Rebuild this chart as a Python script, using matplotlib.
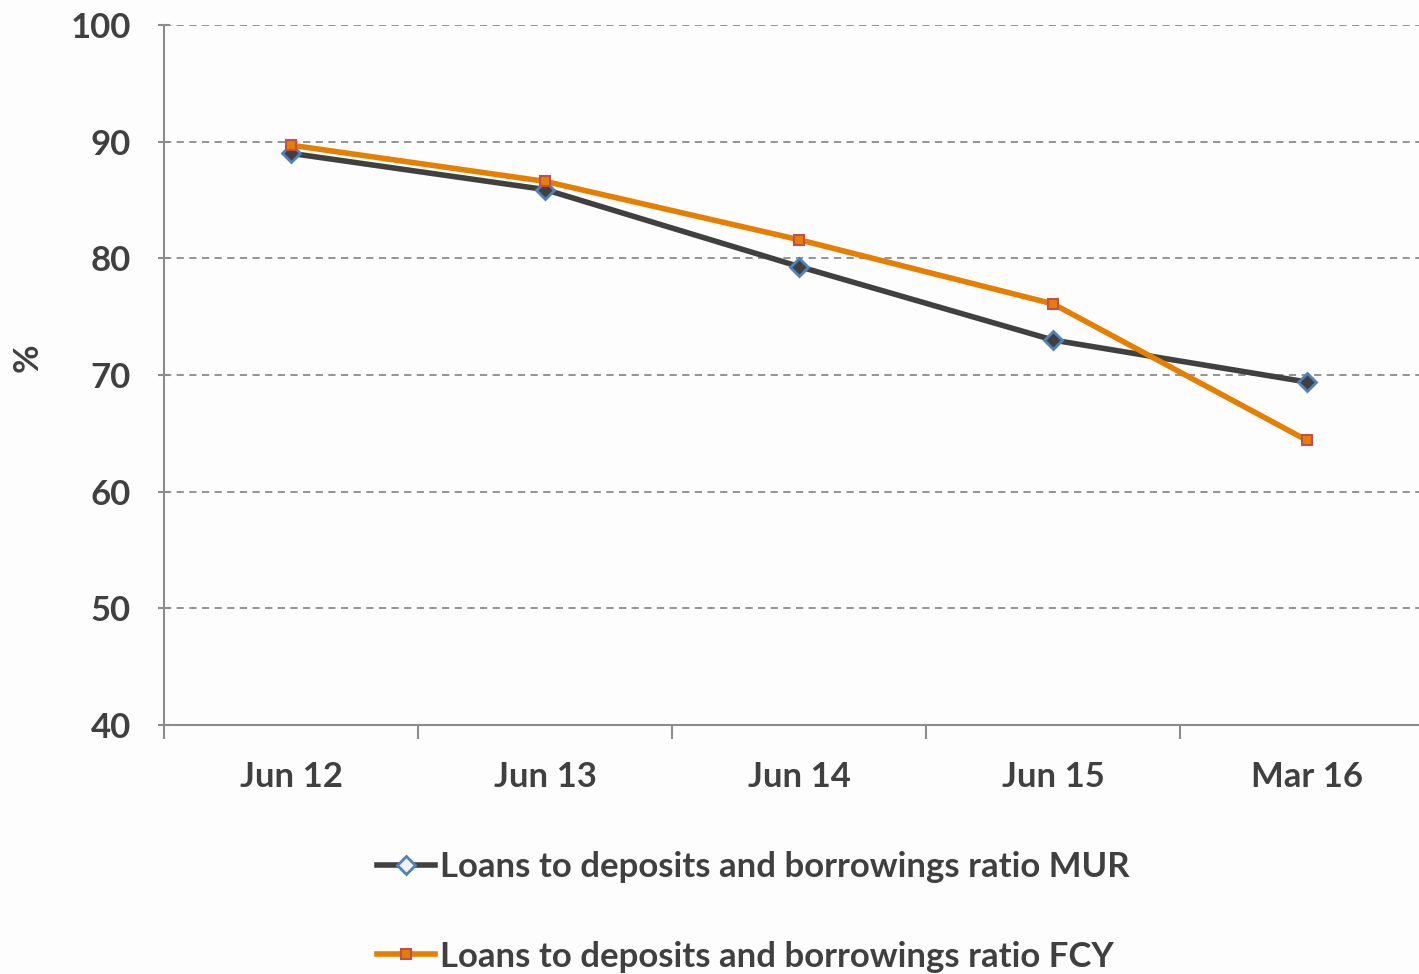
import matplotlib.pyplot as plt

# Loans to deposits and borrowings ratios (%)
periods = ['Jun 12', 'Jun 13', 'Jun 14', 'Jun 15', 'Mar 16']
ratio_mur = [89.0, 85.9, 79.3, 73.0, 69.4]
ratio_fcy = [89.7, 86.6, 81.6, 76.1, 64.4]

text_col = '#404040'
plt.rcParams['font.family'] = ['Lato', 'DejaVu Sans']
plt.rcParams['font.weight'] = 'bold'

fig = plt.figure(figsize=(14.19, 9.74), dpi=100)
fig.patch.set_facecolor('#fdfdfd')
ax = fig.add_axes([0.1156, 0.2556, 0.895, 0.7187])
ax.set_facecolor('none')

x = range(len(periods))
ax.plot(x, ratio_mur, color='#404040', lw=4, marker='D', ms=9,
        mfc='#404040', mec='#4f81bd', mew=2,
        label='Loans to deposits and borrowings ratio MUR', zorder=3)
ax.plot(x, ratio_fcy, color='#e67e00', lw=4, marker='s', ms=7,
        mfc='#e67e00', mec='#c0504d', mew=1.5,
        label='Loans to deposits and borrowings ratio FCY', zorder=3)

ax.set_xlim(-0.5, len(periods) - 0.5)
ax.set_ylim(40, 100)
ax.set_yticks(range(40, 101, 10))
# category boundaries get the tick marks, labels sit in between
ax.set_xticks([i - 0.5 for i in range(len(periods))])
ax.set_xticklabels([])
ax.set_xticks(list(x), minor=True)
ax.set_xticklabels(periods, minor=True)
ax.tick_params(axis='x', which='major', length=10, width=1.5, color='#8c8c8c', direction='out')
ax.tick_params(axis='x', which='minor', length=0, pad=26, labelsize=25, labelcolor=text_col)
ax.tick_params(axis='y', length=8, width=1.5, color='#8c8c8c', direction='inout',
               pad=20, labelsize=25, labelcolor=text_col)

ax.grid(axis='y', ls=(0, (4, 3)), color='#8c8c8c', lw=1.3)
for s in ['top', 'right']:
    ax.spines[s].set_visible(False)
for s in ['left', 'bottom']:
    ax.spines[s].set_color('#8c8c8c')
    ax.spines[s].set_linewidth(1.5)

fig.text(28 / 1419, 1 - 358 / 974, '%', rotation=90, ha='center', va='center',
         fontsize=25, color=text_col)

leg = fig.legend(loc='upper center', bbox_to_anchor=(0.531, 0.158), ncol=1,
                 frameon=False, fontsize=25, labelspacing=1.65, handlelength=1.65,
                 handletextpad=0.15)
for t in leg.get_texts():
    t.set_color(text_col)
# legend diamond is drawn hollow
leg.legend_handles[0].set_markerfacecolor('#f2f2f2')

fig.savefig('out.png', dpi=100, facecolor=fig.get_facecolor())
